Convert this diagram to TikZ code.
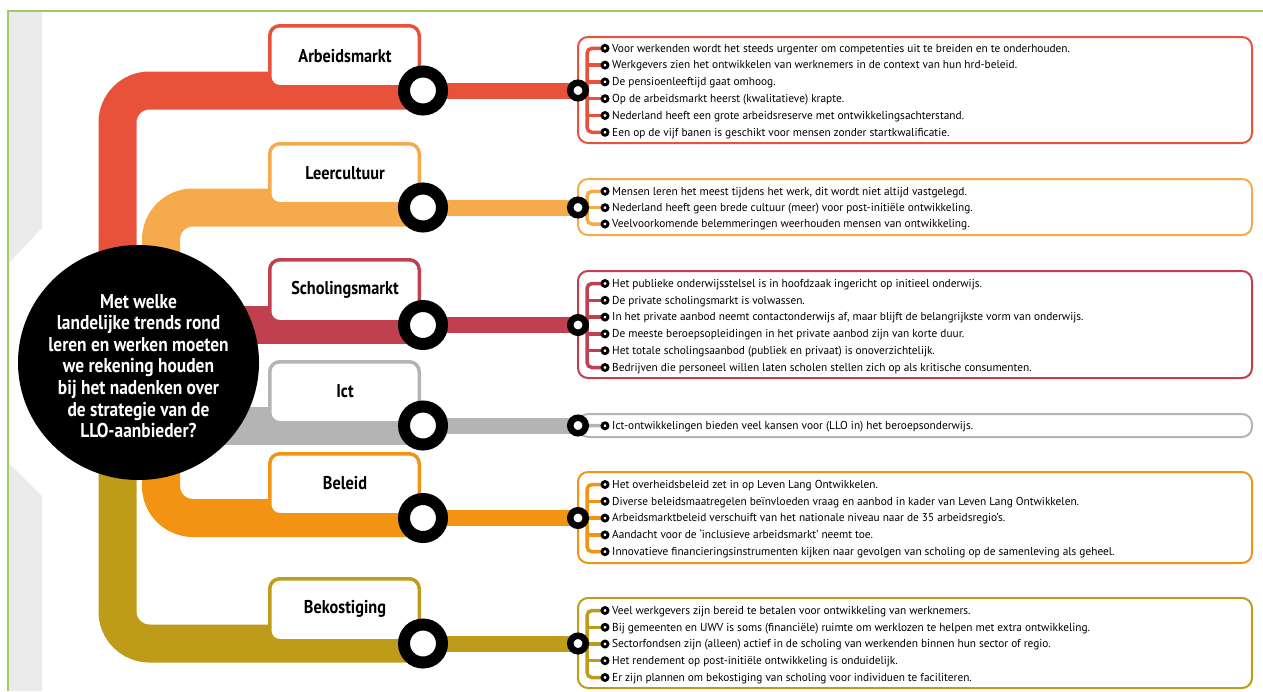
\documentclass[tikz,border=0pt]{standalone}
\usepackage{fontspec}
\usetikzlibrary{shapes.geometric}
\setmainfont{PT Sans}
\newfontfamily\bodyfont{PT Sans}[FakeStretch=0.985]
\newfontfamily\boldfont{PT Sans}[FakeStretch=0.88]
\newfontfamily\qfont{PT Sans}[FakeStretch=0.87]
\definecolor{cA}{HTML}{E8513A}
\definecolor{cL}{HTML}{F6AA4B}
\definecolor{cS}{HTML}{C1404F}
\definecolor{cI}{HTML}{B4B4B4}
\definecolor{cB}{HTML}{F39314}
\definecolor{cK}{HTML}{BF9B1A}
\definecolor{framegreen}{HTML}{A3C86A}
\definecolor{bandgrey}{HTML}{EBEBEB}
\pgfdeclarelayer{back}
\pgfdeclarelayer{mid}
\pgfsetlayers{back,mid,main}
\begin{document}
\begin{tikzpicture}[x=1pt,y=-1pt,
  trunk/.style={draw=#1, line width=38pt, rounded corners=32pt},
  thinline/.style={draw=#1, line width=16pt},
  lblbox/.style={draw=#1, fill=white, line width=3.5pt, rounded corners=10pt},
  rbox/.style={draw=#1, fill=white, line width=2pt, rounded corners=10pt},
  brk/.style={draw=#1, line width=3.5pt, rounded corners=5pt},
  bigstop/.style={circle, draw=black, fill=white, line width=12pt, minimum size=38pt, inner sep=0pt},
  smallstop/.style={circle, draw=black, fill=white, line width=6.5pt, minimum size=15.5pt, inner sep=0pt},
  bul/.style={circle, draw=black, fill=white, line width=2.8pt, minimum size=6pt, inner sep=0pt},
  txt/.style={anchor=base west, inner sep=0pt, font=\bodyfont\fontsize{11.5}{13}\selectfont},
  lbl/.style={inner sep=0pt, font=\boldfont\bfseries\fontsize{18.5}{20}\selectfont}
]
\useasboundingbox (0,0) rectangle (1263,691);

% ---------- main question circle ----------
\node[ellipse, fill=black, minimum width=241pt, minimum height=235pt, inner sep=0pt] (q) at (138.5,362.5) {};
\node[text=white, align=center, inner sep=0pt, font=\qfont\bfseries\fontsize{20}{21.6}\selectfont] (qt) at (138.5,366)
{Met welke\\landelijke trends rond\\leren en werken moeten\\we rekening houden\\bij het nadenken over\\de strategie van de\\LLO-aanbieder?};

% ---------- trunk start coordinates ----------
\coordinate (tA) at (117.5,400);
\coordinate (tL) at (161,380);
\coordinate (tS) at (140,325);
\coordinate (tI) at (140,425.5);
\coordinate (tB) at (161,380);
\coordinate (tK) at (117.5,380);

% ---------- big stops ----------
\node[bigstop] (bA) at (423,90.5) {};
\node[bigstop] (bL) at (423,207.5) {};
\node[bigstop] (bS) at (423,325) {};
\node[bigstop] (bI) at (423,425.5) {};
\node[bigstop] (bB) at (423,518) {};
\node[bigstop] (bK) at (423,643.5) {};

% ---------- small stops ----------
\node[smallstop] (sA) at (578,90.5) {};
\node[smallstop] (sL) at (578,207.5) {};
\node[smallstop] (sS) at (578,325) {};
\node[smallstop] (sI) at (578,425.5) {};
\node[smallstop] (sB) at (578,518) {};
\node[smallstop] (sK) at (578,643.5) {};

% junction coordinates of the brackets
\coordinate (jA) at (587,90.5);
\coordinate (jL) at (587,207.5);
\coordinate (jS) at (587,325);
\coordinate (jB) at (587,518);
\coordinate (jK) at (587,643.5);

% ---------- labels ----------
\node[lbl] (lA) at (345,56) {Arbeidsmarkt};
\node[lbl] (lL) at (345,173) {Leercultuur};
\node[lbl] (lS) at (345,290) {Scholingsmarkt};
\node[lbl] (lI) at (345,391.5) {Ict};
\node[lbl] (lB) at (345,483.5) {Beleid};
\node[lbl] (lK) at (345,609) {Bekostiging};

% ---------- bullets and texts ----------
% Arbeidsmarkt
\node[bul] (pA1) at (605,48.3) {};
\node[bul] (pA2) at (605,65.1) {};
\node[bul] (pA3) at (605,81.9) {};
\node[bul] (pA4) at (605,98.7) {};
\node[bul] (pA5) at (605,115.5) {};
\node[bul] (pA6) at (605,132.3) {};
\node[txt] (xA1) at (612,52.1) {Voor werkenden wordt het steeds urgenter om competenties uit te breiden en te onderhouden.};
\node[txt] (xA2) at (612,68.9) {Werkgevers zien het ontwikkelen van werknemers in de context van hun hrd-beleid.};
\node[txt] (xA3) at (612,85.7) {De pensioenleeftijd gaat omhoog.};
\node[txt] (xA4) at (612,102.5) {Op de arbeidsmarkt heerst (kwalitatieve) krapte.};
\node[txt] (xA5) at (612,119.3) {Nederland heeft een grote arbeidsreserve met ontwikkelingsachterstand.};
\node[txt] (xA6) at (612,136.1) {Een op de vijf banen is geschikt voor mensen zonder startkwalificatie.};
% Leercultuur
\node[bul] (pL1) at (605,191.3) {};
\node[bul] (pL2) at (605,207.7) {};
\node[bul] (pL3) at (605,224) {};
\node[txt] (xL1) at (612,195.1) {Mensen leren het meest tijdens het werk, dit wordt niet altijd vastgelegd.};
\node[txt] (xL2) at (612,211.5) {Nederland heeft geen brede cultuur (meer) voor post-initiële ontwikkeling.};
\node[txt] (xL3) at (612,227.8) {Veelvoorkomende belemmeringen weerhouden mensen van ontwikkeling.};
% Scholingsmarkt
\node[bul] (pS1) at (605,283.5) {};
\node[bul] (pS2) at (605,300.3) {};
\node[bul] (pS3) at (605,317.1) {};
\node[bul] (pS4) at (605,333.9) {};
\node[bul] (pS5) at (605,350.7) {};
\node[bul] (pS6) at (605,367.5) {};
\node[txt] (xS1) at (612,287.3) {Het publieke onderwijsstelsel is in hoofdzaak ingericht op initieel onderwijs.};
\node[txt] (xS2) at (612,304.1) {De private scholingsmarkt is volwassen.};
\node[txt] (xS3) at (612,320.9) {In het private aanbod neemt contactonderwijs af, maar blijft de belangrijkste vorm van onderwijs.};
\node[txt] (xS4) at (612,337.7) {De meeste beroepsopleidingen in het private aanbod zijn van korte duur.};
\node[txt] (xS5) at (612,354.5) {Het totale scholingsaanbod (publiek en privaat) is onoverzichtelijk.};
\node[txt] (xS6) at (612,371.3) {Bedrijven die personeel willen laten scholen stellen zich op als kritische consumenten.};
% Ict
\node[bul] (pI1) at (605,425.8) {};
\node[txt] (xI1) at (612,429.6) {Ict-ontwikkelingen bieden veel kansen voor (LLO in) het beroepsonderwijs.};
% Beleid
\node[bul] (pB1) at (605,484.5) {};
\node[bul] (pB2) at (605,501.3) {};
\node[bul] (pB3) at (605,518.1) {};
\node[bul] (pB4) at (605,534.9) {};
\node[bul] (pB5) at (605,551.7) {};
\node[txt] (xB1) at (612,488.3) {Het overheidsbeleid zet in op Leven Lang Ontwikkelen.};
\node[txt] (xB2) at (612,505.1) {Diverse beleidsmaatregelen beïnvloeden vraag en aanbod in kader van Leven Lang Ontwikkelen.};
\node[txt] (xB3) at (612,521.9) {Arbeidsmarktbeleid verschuift van het nationale niveau naar de 35 arbeidsregio’s.};
\node[txt] (xB4) at (612,538.7) {Aandacht voor de ‘inclusieve arbeidsmarkt’ neemt toe.};
\node[txt] (xB5) at (612,555.5) {Innovatieve financieringsinstrumenten kijken naar gevolgen van scholing op de samenleving als geheel.};
% Bekostiging
\node[bul] (pK1) at (605,610.5) {};
\node[bul] (pK2) at (605,627.3) {};
\node[bul] (pK3) at (605,644) {};
\node[bul] (pK4) at (605,660.7) {};
\node[bul] (pK5) at (605,677.5) {};
\node[txt] (xK1) at (612,614.3) {Veel werkgevers zijn bereid te betalen voor ontwikkeling van werknemers.};
\node[txt] (xK2) at (612,631.1) {Bij gemeenten en UWV is soms (financiële) ruimte om werklozen te helpen met extra ontwikkeling.};
\node[txt] (xK3) at (612,647.8) {Sectorfondsen zijn (alleen) actief in de scholing van werkenden binnen hun sector of regio.};
\node[txt] (xK4) at (612,664.5) {Het rendement op post-initiële ontwikkeling is onduidelijk.};
\node[txt] (xK5) at (612,681.3) {Er zijn plannen om bekostiging van scholing voor individuen te faciliteren.};

% ---------- background layer ----------
\begin{pgfonlayer}{back}
  % grey band and green frame
  \fill[bandgrey] (9,12) -- (42,12) -- (42,228) -- (9,263) -- cycle;
  \fill[bandgrey] (9,463) -- (42,496) -- (42,691) -- (9,691) -- cycle;
  \draw[framegreen, line width=2pt] (8,691) -- (8,11) -- (1263,11);
  % trunks
  \path[trunk=cA] (tA) |- (bA.center);
  \path[trunk=cL] (tL) |- (bL.center);
  \path[trunk=cS] (tS) -- (bS.center);
  \path[trunk=cI] (tI) -- (bI.center);
  \path[trunk=cB] (tB) |- (bB.center);
  \path[trunk=cK] (tK) |- (bK.center);
  % label boxes
  \path[lblbox=cA] (269.75,25.75) rectangle (419.25,86.75);
  \path[lblbox=cL] (269.75,143.75) rectangle (419.25,203.75);
  \path[lblbox=cS] (269.75,259.75) rectangle (419.25,321.75);
  \path[lblbox=cI] (269.75,361.75) rectangle (419.25,422.75);
  \path[lblbox=cB] (269.75,453.75) rectangle (419.25,514.75);
  \path[lblbox=cK] (269.75,578.75) rectangle (419.25,640.75);
  % thin lines between stops
  \path[thinline=cA] (bA.center) -- (sA.center);
  \path[thinline=cL] (bL.center) -- (sL.center);
  \path[thinline=cS] (bS.center) -- (sS.center);
  \path[thinline=cI] (bI.center) -- (sI.center);
  \path[thinline=cB] (bB.center) -- (sB.center);
  \path[thinline=cK] (bK.center) -- (sK.center);
  % right boxes
  \path[rbox=cA] (578,37) rectangle (1252,143);
  \path[rbox=cL] (578,179) rectangle (1252,235);
  \path[rbox=cS] (578,271) rectangle (1252,378);
  \path[rbox=cI] (578,414) rectangle (1252,437);
  \path[rbox=cB] (578,472) rectangle (1252,563);
  \path[rbox=cK] (578,598) rectangle (1252,688);
\end{pgfonlayer}

% ---------- brackets ----------
\begin{pgfonlayer}{mid}
  % Arbeidsmarkt
  \path[brk=cA] (pA1.center) -| (jA) |- (pA6.center);
  \foreach \i in {2,...,5} \path[brk=cA] (jA |- pA\i.center) -- (pA\i.center);
  \path[brk=cA] (sA.center) -- (jA);
  % Leercultuur
  \path[brk=cL] (pL1.center) -| (jL) |- (pL3.center);
  \path[brk=cL] (jL |- pL2.center) -- (pL2.center);
  \path[brk=cL] (sL.center) -- (jL);
  % Scholingsmarkt
  \path[brk=cS] (pS1.center) -| (jS) |- (pS6.center);
  \foreach \i in {2,...,5} \path[brk=cS] (jS |- pS\i.center) -- (pS\i.center);
  \path[brk=cS] (sS.center) -- (jS);
  % Ict
  \path[brk=cI] (sI.center) -- (pI1.center);
  % Beleid
  \path[brk=cB] (pB1.center) -| (jB) |- (pB5.center);
  \foreach \i in {2,...,4} \path[brk=cB] (jB |- pB\i.center) -- (pB\i.center);
  \path[brk=cB] (sB.center) -- (jB);
  % Bekostiging
  \path[brk=cK] (pK1.center) -| (jK) |- (pK5.center);
  \foreach \i in {2,...,4} \path[brk=cK] (jK |- pK\i.center) -- (pK\i.center);
  \path[brk=cK] (sK.center) -- (jK);
\end{pgfonlayer}
\end{tikzpicture}
\end{document}
